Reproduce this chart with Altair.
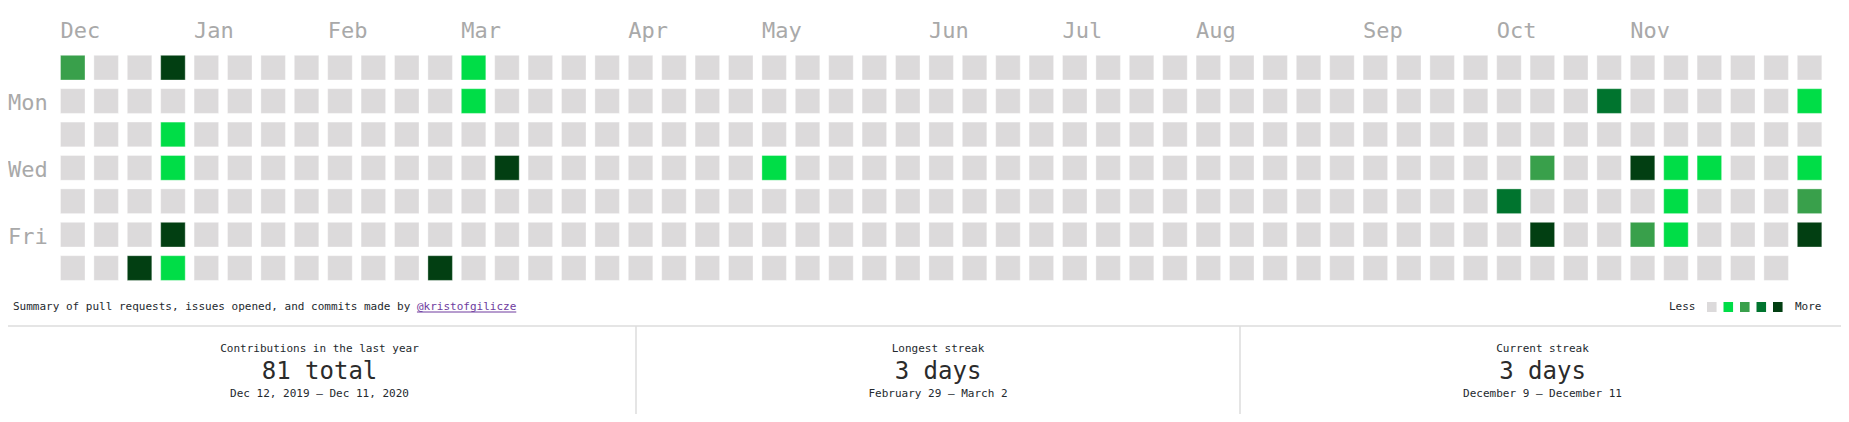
import altair as alt
import pandas as pd

# ---------------- data ----------------
range_start = "2019-12-08"   # Sunday of the first column
range_end = "2020-12-11"

active_dates = [
    "2019-12-08", "2019-12-28", "2019-12-29", "2019-12-31", "2020-01-01",
    "2020-01-03", "2020-01-04", "2020-02-29", "2020-03-01", "2020-03-02",
    "2020-03-11", "2020-05-06", "2020-10-08", "2020-10-14", "2020-10-16",
    "2020-10-26", "2020-11-04", "2020-11-06", "2020-11-11", "2020-11-12",
    "2020-11-13", "2020-11-18", "2020-12-07", "2020-12-09", "2020-12-10",
    "2020-12-11",
]
active_levels = [
    2, 4, 4, 1, 1,
    4, 1, 4, 1, 1,
    4, 1, 3, 2, 4,
    3, 4, 2, 1, 1,
    1, 1, 1, 1, 2,
    4,
]

month_names = ["Dec", "Jan", "Feb", "Mar", "Apr", "May", "Jun", "Jul", "Aug", "Sep", "Oct", "Nov"]
month_weeks = [0, 4, 8, 12, 17, 21, 26, 30, 34, 39, 43, 47]

day_names = ["Mon", "Wed", "Fri"]
day_rows = [1, 3, 5]

level_values = [0, 1, 2, 3, 4]
level_colors = ["#dcdadb", "#00dd47", "#39a04b", "#00742e", "#023f12"]

summary_prefix = "Summary of pull requests, issues opened, and commits made by "
summary_user = "@kristofgilicze"

stat_titles = ["Contributions in the last year", "Longest streak", "Current streak"]
stat_values = ["81 total", "3 days", "3 days"]
stat_ranges = ["Dec 12, 2019 \u2013 Dec 11, 2020", "February 29 \u2013 March 2", "December 9 \u2013 December 11"]

# ---------------- tables ----------------
dates = pd.date_range(range_start, range_end, freq="D")
start_ts = pd.Timestamp(range_start)
level_map = dict(zip(pd.to_datetime(active_dates), active_levels))
cells_df = pd.DataFrame({
    "date": dates,
    "week": [(d - start_ts).days // 7 for d in dates],
    "day": [(d.dayofweek + 1) % 7 for d in dates],
    "level": [level_map.get(d, 0) for d in dates],
})
cells_df["date"] = cells_df["date"].dt.strftime("%Y-%m-%d")
n_weeks = int(cells_df["week"].max()) + 1

months_df = pd.DataFrame({"month": month_names, "week": month_weeks})
days_df = pd.DataFrame({"name": day_names, "day": day_rows})
legend_df = pd.DataFrame({"level": level_values})

MONO = "DejaVu Sans Mono"
TXT = "#24292e"
W, H = 1833, 406

xs = alt.Scale(domain=[0, n_weeks], range=[52.5, 52.5 + n_weeks * 33.4], nice=False, zero=False)
ys = alt.Scale(domain=[0, 7], range=[47.3, 47.3 + 7 * 33.4], nice=False, zero=False)
cs = alt.Scale(domain=level_values, range=level_colors)

cells = alt.Chart(cells_df).transform_calculate(
    w2="datum.week + 0.734", d2="datum.day + 0.74"
).mark_rect(stroke="#ffffff", strokeOpacity=0.35, strokeWidth=1).encode(
    x=alt.X("week:Q", scale=xs, axis=None),
    x2="w2:Q",
    y=alt.Y("day:Q", scale=ys, axis=None),
    y2="d2:Q",
    color=alt.Color("level:O", scale=cs, legend=None),
    tooltip=["date:N", "level:O"],
)

months = alt.Chart(months_df).mark_text(
    align="left", baseline="alphabetic", font=MONO, fontSize=22, color="#a9a9a9"
).encode(
    x=alt.X("week:Q", scale=xs, axis=None),
    y=alt.value(30),
    text="month:N",
)

days = alt.Chart(days_df).transform_calculate(yc="datum.day + 0.37").mark_text(
    align="left", baseline="middle", font=MONO, fontSize=22, color="#a9a9a9", dy=2
).encode(
    x=alt.value(0),
    y=alt.Y("yc:Q", scale=ys, axis=None),
    text="name:N",
)

legend_cells = alt.Chart(legend_df).transform_calculate(l2="datum.level + 0.58").mark_rect().encode(
    x=alt.X("level:Q", scale=alt.Scale(domain=[0, 4], range=[1699, 1765], nice=False, zero=False), axis=None),
    x2="l2:Q",
    y=alt.value(294),
    y2=alt.value(304),
    color=alt.Color("level:O", scale=cs, legend=None),
)

one = pd.DataFrame({"k": [0]})


def label(text, x, y, size=11, color=TXT, align="left"):
    return alt.Chart(one).mark_text(
        text=text, align=align, baseline="middle", font=MONO, fontSize=size, color=color
    ).encode(x=alt.value(x), y=alt.value(y))


char_w = 0.602 * 11
link_x = 5 + len(summary_prefix) * char_w
layers = [cells, months, days, legend_cells]
layers.append(label(summary_prefix, 5, 299))
layers.append(label(summary_user, link_x, 299, color="#6e3b9e"))
layers.append(alt.Chart(one).mark_rule(color="#6e3b9e", strokeWidth=1).encode(
    x=alt.value(link_x), x2=alt.value(link_x + len(summary_user) * char_w), y=alt.value(304)))
layers.append(label("Less", 1661, 299))
layers.append(label("More", 1787, 299))

# separators
layers.append(alt.Chart(one).mark_rule(color="#dddddd", strokeWidth=1.5).encode(
    x=alt.value(0), x2=alt.value(W), y=alt.value(318)))
for sx in [628, 1232]:
    layers.append(alt.Chart(one).mark_rule(color="#dddddd", strokeWidth=1.5).encode(
        x=alt.value(sx), y=alt.value(318), y2=alt.value(H)))

centers = [311.5, 930, 1534.5]
for cx, t, v, r in zip(centers, stat_titles, stat_values, stat_ranges):
    layers.append(label(t, cx, 341.3, align="center"))
    layers.append(label(v, cx, 363.7, size=24, color="#2b2b2b", align="center"))
    layers.append(label(r, cx, 386.3, align="center"))

chart = alt.layer(*layers).resolve_scale(x="independent").properties(
    width=W, height=H, autosize=alt.AutoSizeParams(type="none"), padding=0
).configure_view(stroke=None)

chart.save("out.html", embed_options={"renderer": "svg", "actions": False})
